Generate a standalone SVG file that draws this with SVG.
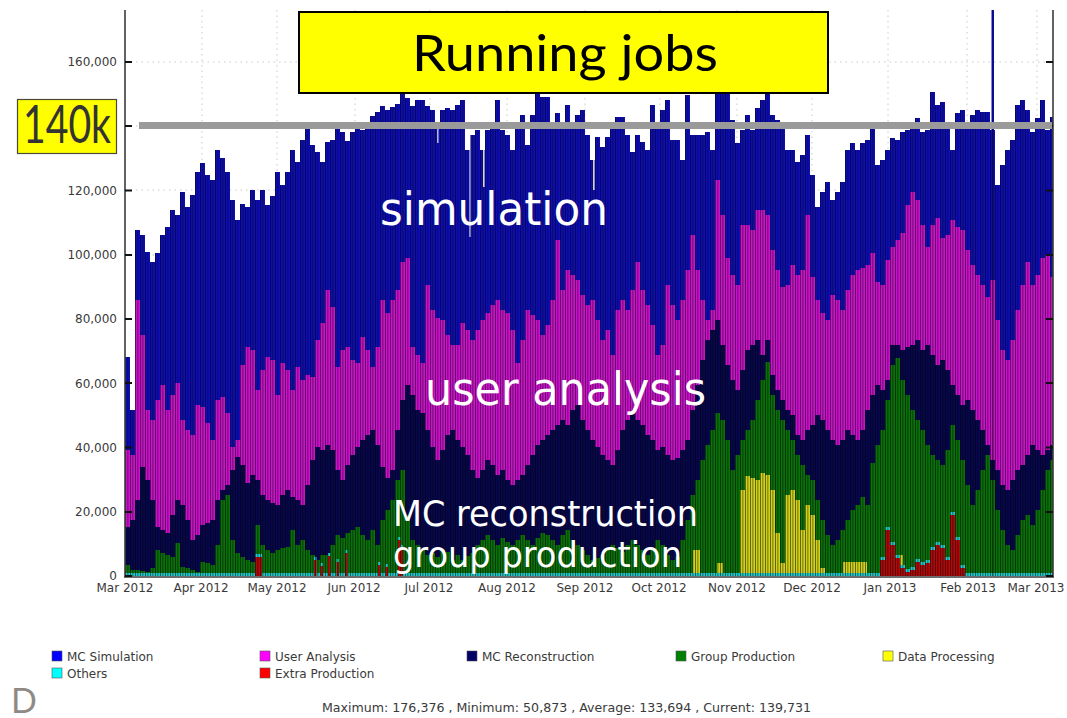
<svg xmlns="http://www.w3.org/2000/svg" xmlns:xlink="http://www.w3.org/1999/xlink" width="1067" height="718" viewBox="0 0 1067 718">
  <style>
    .tick { font-family: "DejaVu Sans", "Liberation Sans", sans-serif; font-size: 12px; fill: #3a3a3a; }
    .ylab { text-anchor: end; }
    .xlab { text-anchor: middle; }
    .leg { font-family: "DejaVu Sans", "Liberation Sans", sans-serif; font-size: 12px; fill: #3a3a3a; }
    .sw { stroke: #555; stroke-width: 0.6; }
    .big { font-family: "DejaVu Sans", "Liberation Sans", sans-serif; fill: #ffffff; }
    .grid { stroke: #c8c8c8; stroke-width: 1; stroke-dasharray: 1.5 4; fill: none; }
    .axis { stroke: #3c3c3c; stroke-width: 1.6; fill: none; }
    .tk { stroke: #111; stroke-width: 2.2; }
    .sim { fill: #0e0eb8; }
    .ua { fill: #cc12cc; }
    .rec { fill: #07074f; }
    .grp { fill: #0b720b; }
    .dp { fill: #d2d21c; }
    .oth { fill: #22c8c8; }
    .ext { fill: #b00a0a; }
  </style>
  <defs>
    <!-- thin dark edges between daily bars, 2.5 px per day -->
    <pattern id="barEdges" patternUnits="userSpaceOnUse" x="125" y="0" width="2.5" height="20">
      <rect x="0" y="0" width="0.8" height="20" fill="#000" fill-opacity="0.6"/>
    </pattern>
    <path id="total" d="M125,576V357h5V410h5V230h5V235h5V252h5V262h5V253h5V235h5V227h5V210h5V215h5V192h5V207h5V195h5V172h5V163h5V175h5V180h5V150h5V158h5V172h5V200h5V220h5V204h5V207h5V190h5V200h5V190h5V205h5V196h5V172h5V185h5V172h5V150h5V162h5V140h5V122h5V145h5V152h5V162h5V142h5V140h5V128h5V132h5V141h5V132h5V122h5V130h5V122h5V116h5V112h5V106h5V110h5V107h5V104h5V94h5V98h5V106h5V100h5V100h5V106h5V110h5V125h5V110h5V108h5V110h5V105h5V100h5V150h5V135h5V130h5V150h5V130h5V125h5V100h5V130h5V135h5V150h5V128h5V115h5V145h5V115h5V92h5V97h5V97h5V125h5V113h5V125h5V105h5V125h5V115h5V110h5V135h5V160h5V137h5V147h5V137h5V128h5V117h5V117h5V135h5V152h5V135h5V142h5V150h5V105h5V128h5V110h5V100h5V140h5V140h5V160h5V95h5V135h5V135h5V135h5V132h5V150h5V92h5V92h5V92h5V120h5V143h5V130h5V115h5V130h5V108h5V100h5V92h5V115h5V120h5V128h5V150h5V150h5V162h5V155h5V135h5V175h5V207h5V192h5V182h5V200h5V192h5V182h5V150h5V143h5V150h5V143h5V140h5V125h5V165h5V160h5V150h5V138h5V140h5V132h5V130h5V128h5V118h5V132h5V130h5V92h5V105h5V102h5V125h5V150h5V113h5V110h5V125h5V115h5V110h5V112h5V112h5V130h5V185h5V165h5V150h5V140h5V105h5V100h5V110h5V132h5V118h5V100h5V130h5V117H1053V576Z"/>
    <path id="extra" d="M255,576V557H262V576Z M314,576V560h2.5V576h4V566h2.5V576h5V556h2.5V576h6V562h2.5V576h6V553h2.5V576Z M378,576V565h2.5V576h5V567h2.5V576Z M398,576V540h2.5V548h2.5V576Z M880,576V560h5V530h5V545h5V558h5V568h5V572h5V570h5V562h5V565h5V563h5V550h5V545h5V548h5V560h5V515h5V540h5V568H965V576Z"/>
  </defs>

  <rect x="0" y="0" width="1067" height="718" fill="#ffffff"/>

  <!-- grid -->
  <g id="grid">
    <path class="grid" d="M125,62H1053 M125,126H1053 M125,190H1053 M125,255H1053 M125,319H1053 M125,383H1053 M125,447H1053 M125,512H1053"/>
    <path class="grid" d="M202,10V576 M277,10V576 M355,10V576 M430,10V576 M507,10V576 M585,10V576 M660,10V576 M737,10V576 M812,10V576 M888,10V576 M967,10V576 M1037,10V576"/>
  </g>

  <!-- stacked daily bars -->
  <g id="chart-bars">
    <g id="series-mc-simulation">
      <use xlink:href="#total" class="sim"/>
      <rect x="991.5" y="10" width="2.5" height="566" class="sim"/>
      <rect x="437" y="108" width="1.5" height="35" fill="#fff"/>
      <rect x="469.5" y="128" width="1.5" height="109" fill="#fff"/>
      <rect x="483" y="128" width="1.5" height="59" fill="#fff"/>
      <rect x="593" y="145" width="1.5" height="45" fill="#fff"/>
    </g>
    <path id="series-user-analysis" class="ua" d="M125,576V450h5V455h5V300h5V335h5V410h5V420h5V400h5V385h5V410h5V395h5V383h5V420h5V430h5V435h5V405h5V407h5V423h5V440h5V400h5V397h5V413h5V447h5V440h5V365h5V347h5V350h5V390h5V370h5V357h5V360h5V395h5V363h5V370h5V390h5V367h5V380h5V375h5V377h5V340h5V323h5V290h5V307h5V367h5V350h5V347h5V360h5V363h5V337h5V350h5V367h5V347h5V300h5V313h5V300h5V290h5V262h5V258h5V347h5V355h5V363h5V285h5V310h5V318h5V320h5V335h5V345h5V345h5V323h5V330h5V340h5V330h5V320h5V313h5V305h5V300h5V310h5V313h5V330h5V363h5V340h5V310h5V315h5V320h5V335h5V325h5V300h5V240h5V290h5V270h5V275h5V280h5V295h5V305h5V300h5V320h5V340h5V330h5V355h5V310h5V300h5V310h5V290h5V262h5V290h5V305h5V325h5V355h5V345h5V285h5V305h5V320h5V300h5V270h5V235h5V270h5V300h5V320h5V310h5V180h5V215h5V258h5V275h5V285h5V225h5V225h5V230h5V210h5V210h5V215h5V250h5V270h5V287h5V285h5V265h5V275h5V270h5V215h5V277h5V300h5V313h5V320h5V295h5V300h5V310h5V290h5V275h5V270h5V268h5V265h5V253h5V282h5V285h5V260h5V247h5V240h5V233h5V205h5V192h5V200h5V225h5V247h5V225h5V218h5V238h5V235h5V220h5V227h5V230h5V250h5V265h5V275h5V285h5V297h5V280h5V320h5V350h5V360h5V340h5V310h5V285h5V262h5V285h5V275h5V258h5V255h5V277H1053V576Z"/>
    <path id="series-mc-reconstruction" class="rec" d="M125,576V527h5V520h5V500h5V467h5V480h5V500h5V527h5V530h5V533h5V515h5V500h5V505h5V520h5V540h5V535h5V525h5V523h5V520h5V500h5V490h5V485h5V470h5V457h5V465h5V483h5V475h5V480h5V495h5V500h5V503h5V505h5V495h5V490h5V497h5V500h5V505h5V485h5V460h5V447h5V450h5V445h5V450h5V470h5V480h5V465h5V455h5V447h5V440h5V435h5V430h5V445h5V467h5V478h5V470h5V430h5V400h5V385h5V395h5V410h5V413h5V430h5V447h5V460h5V450h5V435h5V430h5V440h5V447h5V455h5V470h5V478h5V470h5V460h5V465h5V475h5V470h5V480h5V485h5V480h5V475h5V465h5V455h5V445h5V440h5V435h5V430h5V425h5V420h5V425h5V410h5V405h5V420h5V430h5V440h5V447h5V455h5V460h5V465h5V450h5V430h5V420h5V413h5V420h5V425h5V435h5V440h5V450h5V447h5V455h5V460h5V458h5V450h5V440h5V410h5V385h5V360h5V340h5V330h5V320h5V345h5V365h5V380h5V390h5V370h5V350h5V345h5V340h5V355h5V340h5V375h5V390h5V400h5V410h5V415h5V435h5V440h5V430h5V425h5V415h5V420h5V430h5V440h5V445h5V440h5V430h5V435h5V440h5V430h5V410h5V395h5V385h5V390h5V380h5V345h5V345h5V350h5V347h5V345h5V340h5V350h5V345h5V355h5V365h5V360h5V370h5V385h5V395h5V405h5V400h5V410h5V420h5V430h5V445h5V460h5V470h5V485h5V490h5V480h5V470h5V465h5V455h5V445h5V450h5V455h5V450h5V445H1053V576Z"/>
    <path id="series-group-production" class="grp" d="M125,576V565h5V570h5V570h5V571h5V572h5V568h5V550h5V553h5V555h5V557h5V543h5V567h5V568h5V570h5V572h5V562h5V563h5V565h5V545h5V500h5V495h5V540h5V553h5V557h5V560h5V562h5V525h5V545h5V550h5V553h5V550h5V548h5V547h5V530h5V545h5V540h5V550h5V555h5V560h5V555h5V555h5V545h5V535h5V538h5V533h5V530h5V527h5V535h5V540h5V530h5V545h5V520h5V510h5V500h5V480h5V470h5V515h5V540h5V545h5V550h5V555h5V553h5V557h5V550h5V552h5V560h5V555h5V560h5V556h5V553h5V545h5V540h5V535h5V540h5V545h5V538h5V542h5V545h5V540h5V535h5V540h5V545h5V538h5V533h5V535h5V540h5V545h5V535h5V530h5V540h5V545h5V550h5V555h5V560h5V558h5V555h5V550h5V545h5V548h5V552h5V545h5V540h5V545h5V550h5V555h5V548h5V540h5V545h5V555h5V560h5V557h5V540h5V520h5V495h5V480h5V460h5V445h5V430h5V413h5V420h5V440h5V470h5V455h5V440h5V430h5V420h5V400h5V380h5V362h5V395h5V410h5V420h5V430h5V440h5V455h5V465h5V475h5V480h5V500h5V520h5V535h5V545h5V540h5V530h5V520h5V510h5V505h5V497h5V505h5V463h5V445h5V430h5V400h5V365h5V358h5V380h5V395h5V410h5V420h5V430h5V445h5V455h5V460h5V465h5V450h5V425h5V440h5V460h5V485h5V505h5V490h5V470h5V455h5V480h5V510h5V530h5V545h5V550h5V535h5V520h5V515h5V525h5V510h5V490h5V470h5V460H1053V576Z"/>
    <path id="series-data-processing" class="dp" d="M693,576V550H700V576Z M717,576V563H723V576Z M740,576V490h5V476h5V478h5V480h5V473h5V475h5V490h5V533h5V563h5V495h5V490h5V500h5V530h5V505h5V515h5V540h5V568H825V576Z M843,576V562H867V576Z M897,576V555H903V576Z"/>
    <g id="series-others">
      <rect x="125" y="573" width="928" height="3" class="oth"/>
      <use xlink:href="#extra" class="oth" transform="translate(0,-3)"/>
    </g>
    <use id="series-extra-production" xlink:href="#extra" class="ext"/>
    <use xlink:href="#total" fill="url(#barEdges)"/>
    <rect x="991.5" y="10" width="2.5" height="566" fill="url(#barEdges)"/>
  </g>

  <!-- axes and ticks -->
  <g id="axes">
    <path class="axis" d="M125,10V577 M1053,10V577 M124,577H1054"/>
    <path class="tk" d="M125,62h7 M125,126h7 M125,190.5h7 M125,255h7 M125,319h7 M125,383h7 M125,447.5h7 M125,512h7 M125,576h7"/>
    <path class="tk" d="M1046,62h7 M1046,126h7 M1046,190.5h7 M1046,255h7 M1046,319h7 M1046,383h7 M1046,447.5h7 M1046,512h7 M1046,576h7"/>
    <g class="tick ylab">
      <text x="117" y="66">160,000</text>
      <text x="117" y="195">120,000</text>
      <text x="117" y="259">100,000</text>
      <text x="117" y="323">80,000</text>
      <text x="117" y="388">60,000</text>
      <text x="117" y="452">40,000</text>
      <text x="117" y="516">20,000</text>
      <text x="117" y="580">0</text>
    </g>
    <g class="tick xlab">
      <text x="125" y="592">Mar 2012</text>
      <text x="201" y="592">Apr 2012</text>
      <text x="277" y="592">May 2012</text>
      <text x="354" y="592">Jun 2012</text>
      <text x="429" y="592">Jul 2012</text>
      <text x="507" y="592">Aug 2012</text>
      <text x="585" y="592">Sep 2012</text>
      <text x="659" y="592">Oct 2012</text>
      <text x="737" y="592">Nov 2012</text>
      <text x="812" y="592">Dec 2012</text>
      <text x="890" y="592">Jan 2013</text>
      <text x="968" y="592">Feb 2013</text>
      <text x="1036" y="592">Mar 2013</text>
    </g>
  </g>

  <!-- series captions written over the bars -->
  <g id="captions">
    <text class="big" x="380" y="225" font-size="46" textLength="228" lengthAdjust="spacingAndGlyphs">simulation</text>
    <text class="big" x="425" y="405" font-size="46" textLength="281" lengthAdjust="spacingAndGlyphs">user analysis</text>
    <text class="big" x="393" y="526" font-size="36" textLength="305" lengthAdjust="spacingAndGlyphs">MC reconstruction</text>
    <text class="big" x="393" y="567" font-size="36" textLength="289" lengthAdjust="spacingAndGlyphs">group production</text>
  </g>

  <!-- 140k reference level -->
  <g id="connectors">
    <line x1="139" y1="125.5" x2="1052" y2="125.5" stroke="#9a9a9a" stroke-width="7"/>
  </g>

  <g id="label-140k">
    <rect x="17.5" y="99.5" width="99" height="54" fill="#ffff00" stroke="#4a4a3a" stroke-width="1.2"/>
    <text x="23" y="143" font-family="Lato, 'Liberation Sans', sans-serif" font-size="52" fill="#333333" textLength="88" lengthAdjust="spacingAndGlyphs">140k</text>
  </g>

  <g id="title-node">
    <rect x="299" y="12" width="529" height="81" fill="#ffff00" stroke="#000" stroke-width="2"/>
    <text x="412" y="71" font-family="Lato, 'Liberation Sans', sans-serif" font-size="50" fill="#000" textLength="306" lengthAdjust="spacingAndGlyphs">Running jobs</text>
  </g>

  <!-- legend -->
  <g id="legend">
    <rect class="sw" x="52" y="651" width="10" height="10" fill="#0000ff"/>
    <text class="leg" x="67" y="661">MC Simulation</text>
    <rect class="sw" x="260" y="651" width="10" height="10" fill="#ff00ff"/>
    <text class="leg" x="275" y="661">User Analysis</text>
    <rect class="sw" x="467" y="651" width="10" height="10" fill="#000066"/>
    <text class="leg" x="482" y="661">MC Reconstruction</text>
    <rect class="sw" x="676" y="651" width="10" height="10" fill="#008000"/>
    <text class="leg" x="691" y="661">Group Production</text>
    <rect class="sw" x="883" y="651" width="10" height="10" fill="#ffff00"/>
    <text class="leg" x="898" y="661">Data Processing</text>
    <rect class="sw" x="52" y="668" width="10" height="10" fill="#00ffff"/>
    <text class="leg" x="67" y="678">Others</text>
    <rect class="sw" x="260" y="668" width="10" height="10" fill="#ff0000"/>
    <text class="leg" x="275" y="678">Extra Production</text>
  </g>

  <text id="stats" class="leg" x="322" y="712" textLength="489" lengthAdjust="spacingAndGlyphs">Maximum: 176,376 , Minimum: 50,873 , Average: 133,694 , Current: 139,731</text>
  <text id="corner-letter" x="11" y="713" font-family="Lato, 'Liberation Sans', sans-serif" font-size="34" fill="#8f8a84">D</text>
</svg>
